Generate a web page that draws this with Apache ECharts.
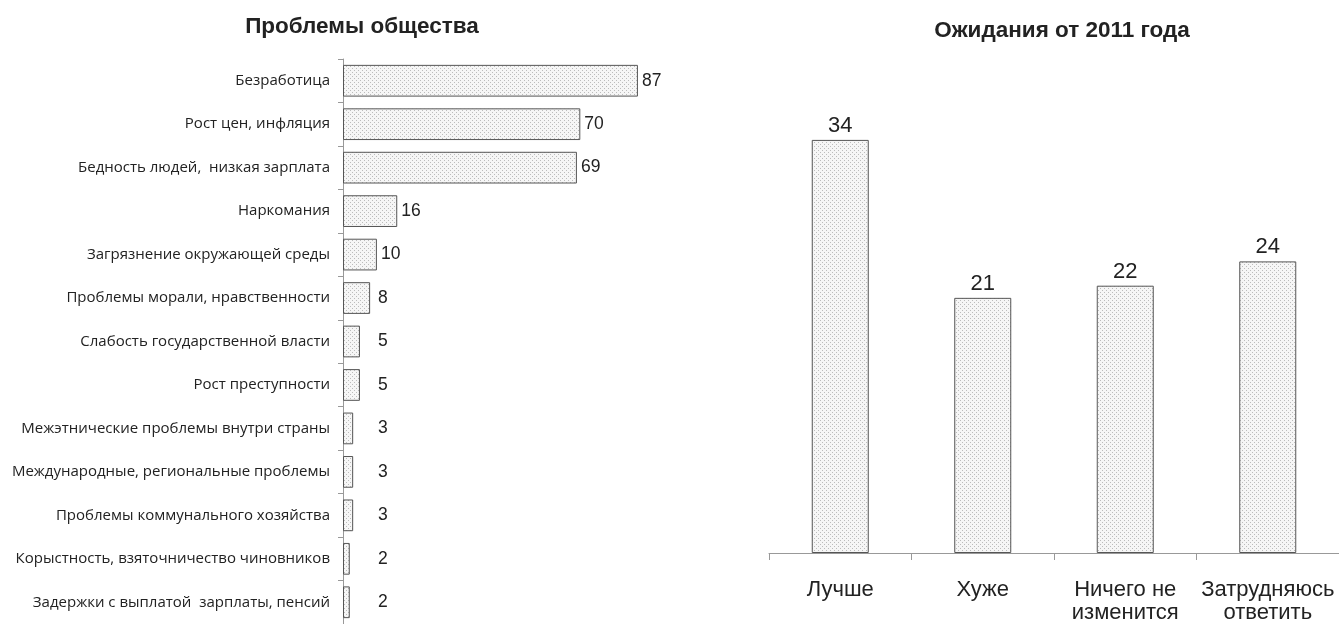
<!DOCTYPE html>
<html>
<head>
<meta charset="utf-8">
<script src="https://cdn.jsdelivr.net/npm/echarts@6/dist/echarts.min.js"></script>
<style>
  html, body { margin: 0; padding: 0; background: #fff; }
  #chart { width: 1339px; height: 624px; }
</style>
</head>
<body>
<div id="chart"></div>
<script>
  // Проблемы общества
  const problems = [
    'Безработица',
    'Рост цен, инфляция',
    'Бедность людей,  низкая зарплата',
    'Наркомания',
    'Загрязнение окружающей среды',
    'Проблемы морали, нравственности',
    'Слабость государственной власти',
    'Рост преступности',
    'Межэтнические проблемы внутри страны',
    'Международные, региональные проблемы',
    'Проблемы коммунального хозяйства',
    'Корыстность, взяточничество чиновников',
    'Задержки с выплатой  зарплаты, пенсий'
  ]
  const problemValues = [87, 70, 69, 16, 10, 8, 5, 5, 3, 3, 3, 2, 2]

  // Ожидания от 2011 года
  const expectations = ['Лучше', 'Хуже', 'Ничего не\nизменится', 'Затрудняюсь\nответить']
  const expectationValues = [34, 21, 22, 24]

  // точечная заливка столбцов
  function dotPattern () {
    const c = document.createElement('canvas')
    c.width = 4
    c.height = 4
    const ctx = c.getContext('2d')
    ctx.fillStyle = '#f6f6f6'
    ctx.fillRect(0, 0, 4, 4)
    ctx.fillStyle = '#bcbcbc'
    ctx.fillRect(0, 0, 1, 1)
    ctx.fillRect(2, 2, 1, 1)
    return c
  }
  const pattern = { image: dotPattern(), repeat: 'repeat' }

  const leftWidth = 339
  const leftMax = 100
  const pxPerUnit = leftWidth / leftMax
  const minLabelX = 35 // подписи маленьких значений не ближе этого отступа от оси

  const chart = echarts.init(document.getElementById('chart'))
  const option = {
    animation: false,
    title: [{
      text: 'Проблемы общества',
      left: 357,
      top: 10,
      textAlign: 'center',
      textStyle: { fontFamily: 'Liberation Sans', fontSize: 22.5, fontWeight: 'bold', color: '#222' }
    }, {
      text: 'Ожидания от 2011 года',
      left: 1057,
      top: 14,
      textAlign: 'center',
      textStyle: { fontFamily: 'Liberation Sans', fontSize: 22.5, fontWeight: 'bold', color: '#222' }
    }],
    grid: [
      { left: 343, top: 59, width: leftWidth, height: 570 },
      { left: 769, top: 67, width: 570, bottom: 71 }
    ],
    xAxis: [{
      gridIndex: 0,
      type: 'value',
      min: 0,
      max: leftMax,
      show: false
    }, {
      gridIndex: 1,
      type: 'category',
      data: expectations,
      axisLine: { lineStyle: { color: '#999', width: 1 } },
      axisTick: { show: true, length: 7, lineStyle: { color: '#999' } },
      axisLabel: {
        margin: 25,
        fontFamily: 'Liberation Sans',
        fontSize: 22,
        lineHeight: 23,
        color: '#222',
        interval: 0
      }
    }],
    yAxis: [{
      gridIndex: 0,
      type: 'category',
      inverse: true,
      data: problems,
      axisLine: { lineStyle: { color: '#999', width: 1 } },
      axisTick: { show: true, length: 5, lineStyle: { color: '#999' } },
      axisLabel: {
        margin: 13,
        fontFamily: 'Open Sans',
        fontSize: 15,
        color: '#222'
      }
    }, {
      gridIndex: 1,
      type: 'value',
      min: 0,
      max: 40,
      show: false
    }],
    series: [{
      type: 'bar',
      xAxisIndex: 0,
      yAxisIndex: 0,
      barCategoryGap: '27%',
      data: problemValues.map(v => ({
        value: v,
        label: { distance: Math.max(4, minLabelX - v * pxPerUnit) }
      })),
      itemStyle: { color: pattern, borderColor: '#555', borderWidth: 1 },
      label: {
        show: true,
        position: 'right',
        fontFamily: 'Liberation Sans',
        fontSize: 17.5,
        color: '#222'
      }
    }, {
      type: 'bar',
      xAxisIndex: 1,
      yAxisIndex: 1,
      barCategoryGap: '60%',
      data: expectationValues,
      itemStyle: { color: pattern, borderColor: '#555', borderWidth: 1 },
      label: {
        show: true,
        position: 'top',
        distance: 3,
        fontFamily: 'Liberation Sans',
        fontSize: 22,
        color: '#222'
      }
    }]
  }
  chart.setOption(option)
  window.addEventListener('resize', chart.resize)
</script>
</body>
</html>
